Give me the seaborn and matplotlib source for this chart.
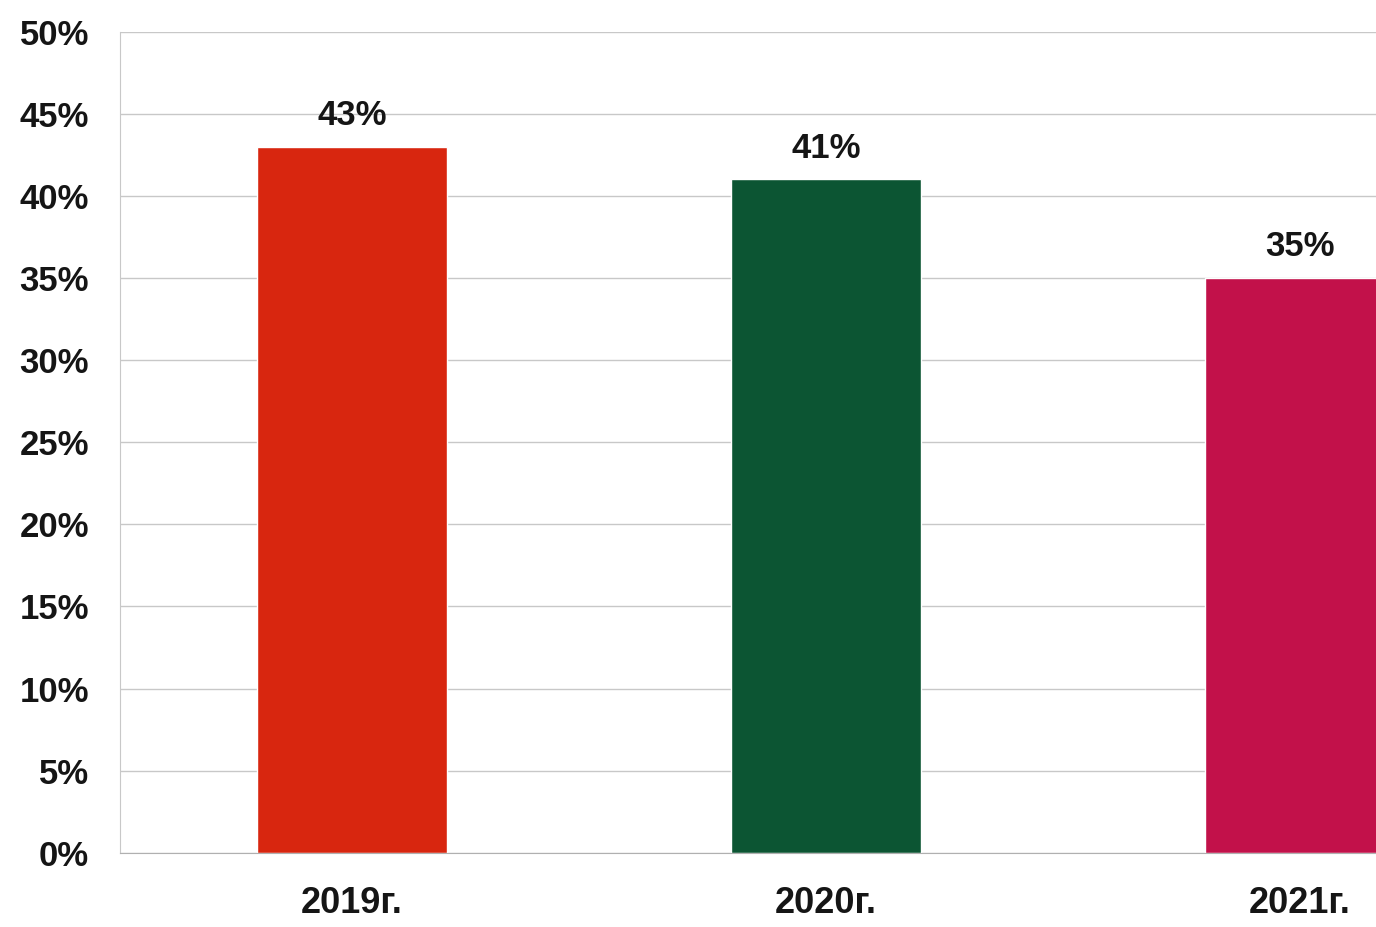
import matplotlib
matplotlib.use('Agg')
import matplotlib.pyplot as plt
import seaborn as sns
import pandas as pd
from matplotlib.ticker import PercentFormatter

# values
years = ['2019г.', '2020г.', '2021г.']
shares = [43, 41, 35]
bar_colors = ['#D8260F', '#0C5533', '#C2114A']

df = pd.DataFrame({'year': years, 'share': shares})

sns.set_style('white')
plt.rcParams['font.family'] = ['Liberation Sans', 'DejaVu Sans']

fig = plt.figure(figsize=(13.76, 9.27), dpi=100)
ax = fig.add_axes([0.087, 0.080, 0.913, 0.886])

sns.barplot(data=df, x='year', y='share', hue='year', palette=bar_colors,
            width=0.4, legend=False, ax=ax, saturation=1)

for i, v in enumerate(shares):
    ax.text(i, v + 0.9, f'{v}%', ha='center', va='bottom', fontsize=25,
            fontweight='bold', color='#151515')

ax.set_ylim(0, 50)
ax.set_xlim(-0.49, 2.16)
ax.set_yticks(range(0, 51, 5))
ax.yaxis.set_major_formatter(PercentFormatter(decimals=0))
ax.yaxis.grid(True, color='#c8c8c8', linewidth=1)
ax.set_axisbelow(True)
ax.tick_params(axis='y', labelsize=25, pad=22, length=0, labelcolor='#151515')
ax.tick_params(axis='x', labelsize=26, pad=24, length=0, labelcolor='#151515')
for lbl in ax.get_xticklabels() + ax.get_yticklabels():
    lbl.set_fontweight('bold')
ax.set_xlabel('')
ax.set_ylabel('')

for s in ['top', 'right']:
    ax.spines[s].set_visible(False)
ax.spines['left'].set_color('#c8c8c8')
ax.spines['bottom'].set_color('#b0b0b0')

fig.savefig('out.png', dpi=100)
